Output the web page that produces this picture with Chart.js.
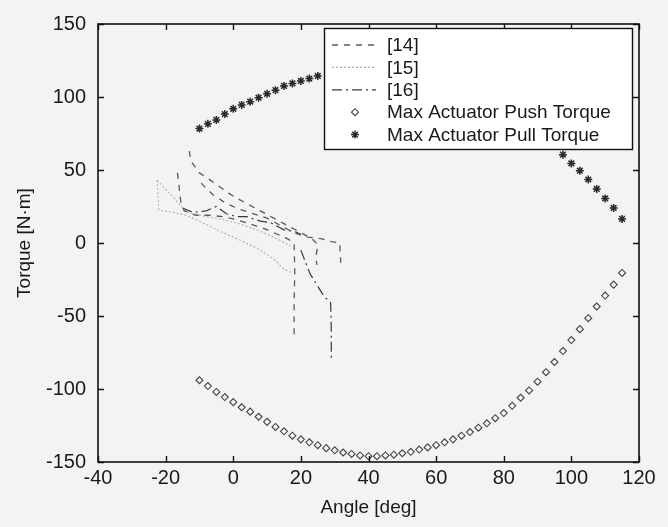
<!DOCTYPE html>
<html>
<head>
<meta charset="utf-8">
<script src="https://cdn.jsdelivr.net/npm/chart.js@4.4.1/dist/chart.umd.min.js"></script>
<style>
  html, body { margin: 0; padding: 0; background: #f3f3f1; }
  canvas { display: block; }
</style>
</head>
<body>
<canvas id="torqueChart" width="668" height="527"></canvas>
<script>
// Maximum actuator torque capability, sampled every 2.5 deg
const pushAngle = [-10, -7.5, -5, -2.5, 0, 2.5, 5, 7.5, 10, 12.5, 15, 17.5, 20, 22.5, 25, 27.5, 30, 32.5,
  35, 37.5, 40, 42.5, 45, 47.5, 50, 52.5, 55, 57.5, 60, 62.5, 65, 67.5, 70, 72.5, 75, 77.5, 80, 82.5,
  85, 87.5, 90, 92.5, 95, 97.5, 100, 102.5, 105, 107.5, 110, 112.5, 115];
const pushTorque = [-94, -98, -102, -105.5, -109, -112.5, -115.5, -119, -122.5, -126, -129, -132, -134.5,
  -136.5, -138.5, -140.5, -142, -143.5, -144.5, -145.5, -146, -146, -145.5, -145, -144, -143, -141.5,
  -140, -138.5, -136.5, -134.5, -132, -129.5, -126.5, -123.5, -120, -116.5, -111.5, -106, -101, -95,
  -88.5, -81.5, -74, -66.5, -59, -51.5, -43.5, -36, -28.5, -20.5];

const pullAngle = [-10, -7.5, -5, -2.5, 0, 2.5, 5, 7.5, 10, 12.5, 15, 17.5, 20, 22.5, 25,
  97.5, 100, 102.5, 105, 107.5, 110, 112.5, 115];
const pullTorque = [78.4, 81.6, 84.3, 88.3, 91.9, 94.6, 96.8, 99.5, 102.2, 104.7, 107.6, 109.3, 111, 112.6, 114.4,
  60.5, 54.5, 49.5, 43.5, 37, 30.5, 24, 16.5];

// Published joint torque traces; null separates individual traces
const ref14Angle = [-13, -12.5, -10, -8, -4, 0, 4, 8, 12, 16, 20, 23, 25, 24.5, 24.7, null,
  -16.5, -16, -15.5, -14.5, -11, -7, -3, 1, 5, 9, 13, 16, 18, 18.2, 18, 18, null,
  -9.5, -6, -2, 2, 6, 10, 14, 18, 22, 26, 29, 31.5, 31.8];
const ref14Torque = [63, 56, 48, 45, 38.5, 32, 27, 22, 17, 12, 7, 3.5, -1, -9, -15, null,
  48, 38, 28, 22, 19, 19, 18, 16, 13, 10, 6, 3, 0, -20, -40, -65, null,
  41, 33, 27, 23, 20, 17, 12, 7, 4, 3, 1, 0, -13.5];

const ref15Angle = [-22.5, -22, -18, -14, -10, -7, -3, 2, 7, 12, 15, 17, null,
  -22.5, -18, -14, -8, -3, 2, 7, 12, 17];
const ref15Torque = [43, 22.5, 21, 19, 15, 11.5, 7, 2, -3.5, -11, -18, -20, null,
  43, 32, 21.5, 18, 16, 13, 9, 4, -2];

const ref16Angle = [-15, -12, -8, -5, -2, 1, 4, 8, 11, 15, 18, 20, null,
  20, 22.7, 26.7, 28.8, 29, 29];
const ref16Torque = [24, 21, 22, 25, 20, 18, 18, 15, 14, 9, 8, 6, null,
  -5, -21, -36, -41, -60, -80];

const xTicks = [-40, -20, 0, 20, 40, 60, 80, 100, 120];
const yTicks = [-150, -100, -50, 0, 50, 100, 150];

const toPoints = (xs, ys) => xs.map((x, i) => ({ x: x, y: ys[i] }));

const FONT = "'Liberation Sans', Arial, sans-serif";
const TEXT = '#1a1a1a';

// Page background
const paper = {
  id: 'paper',
  beforeDraw(chart) {
    const ctx = chart.ctx;
    ctx.save();
    ctx.fillStyle = '#f3f3f1';
    ctx.fillRect(0, 0, chart.width, chart.height);
    ctx.restore();
  }
};

// Box frame with inward tick marks on all four sides
const frame = {
  id: 'frame',
  afterDatasetsDraw(chart) {
    const { ctx, chartArea: a, scales } = chart;
    const len = 6;
    ctx.save();
    ctx.strokeStyle = '#111';
    ctx.lineWidth = 1.6;
    ctx.strokeRect(a.left, a.top, a.right - a.left, a.bottom - a.top);
    ctx.beginPath();
    xTicks.forEach(v => {
      const px = Math.round(scales.x.getPixelForValue(v)) + 0.5;
      ctx.moveTo(px, a.bottom); ctx.lineTo(px, a.bottom - len);
      ctx.moveTo(px, a.top); ctx.lineTo(px, a.top + len);
    });
    yTicks.forEach(v => {
      const py = Math.round(scales.y.getPixelForValue(v)) + 0.5;
      ctx.moveTo(a.left, py); ctx.lineTo(a.left + len, py);
      ctx.moveTo(a.right, py); ctx.lineTo(a.right - len, py);
    });
    ctx.lineWidth = 1.4;
    ctx.stroke();
    ctx.restore();
  }
};

// Opaque legend box in the upper right of the plot
const boxedLegend = {
  id: 'boxedLegend',
  afterDraw(chart) {
    const { ctx, chartArea: a } = chart;
    const w = 308, h = 121;
    const x0 = a.right - 7 - w, y0 = a.top + 4;
    ctx.save();
    ctx.fillStyle = '#ffffff';
    ctx.fillRect(x0, y0, w, h);
    ctx.strokeStyle = '#111';
    ctx.lineWidth = 1.4;
    ctx.strokeRect(x0 + 0.5, y0 + 0.5, w, h);
    chart.data.datasets.forEach((ds, i) => {
      const cy = y0 + 17 + i * 22.4;
      ctx.save();
      if (ds.showLine) {
        ctx.strokeStyle = ds.borderColor;
        ctx.lineWidth = ds.borderWidth;
        ctx.setLineDash(ds.borderDash || []);
        ctx.beginPath();
        ctx.moveTo(x0 + 8, cy);
        ctx.lineTo(x0 + 52, cy);
        ctx.stroke();
      } else {
        ctx.strokeStyle = ds.pointBorderColor;
        ctx.fillStyle = ds.pointBackgroundColor;
        ctx.lineWidth = ds.pointBorderWidth;
        Chart.helpers.drawPoint(ctx, {
          pointStyle: ds.pointStyle,
          radius: ds.pointRadius,
          borderWidth: ds.pointBorderWidth,
          rotation: 0
        }, x0 + 31, cy);
      }
      ctx.restore();
      ctx.font = '19px ' + FONT;
      ctx.textBaseline = 'middle';
      ctx.fillStyle = TEXT;
      ctx.fillText(ds.label, x0 + 63, cy + 1);
    });
    ctx.restore();
  }
};

const lineSet = (label, xs, ys, color, dash, width) => ({
  label: label,
  data: toPoints(xs, ys),
  showLine: true,
  spanGaps: false,
  borderColor: color,
  borderWidth: width,
  borderDash: dash,
  pointRadius: 0,
  pointHoverRadius: 0,
  fill: false
});

new Chart(document.getElementById('torqueChart'), {
  type: 'scatter',
  data: {
    datasets: [
      lineSet('[14]', ref14Angle, ref14Torque, '#5a5a5a', [6, 6], 1.3),
      lineSet('[15]', ref15Angle, ref15Torque, '#b0b0b0', [2, 2], 1.1),
      lineSet('[16]', ref16Angle, ref16Torque, '#3a3a3a', [10, 4, 2, 4], 1.2),
      {
        label: 'Max Actuator Push Torque',
        data: toPoints(pushAngle, pushTorque),
        showLine: false,
        pointStyle: 'rectRot',
        pointRadius: 3.5,
        pointBorderWidth: 1.1,
        pointBorderColor: '#444444',
        pointBackgroundColor: 'rgba(0,0,0,0)',
        pointHoverRadius: 3.5
      },
      {
        label: 'Max Actuator Pull Torque',
        data: toPoints(pullAngle, pullTorque),
        showLine: false,
        pointStyle: 'star',
        pointRadius: 4,
        pointBorderWidth: 1.5,
        pointBorderColor: '#2a2a2a',
        pointBackgroundColor: '#2a2a2a',
        pointHoverRadius: 4
      }
    ]
  },
  options: {
    responsive: false,
    animation: false,
    events: [],
    layout: { padding: { top: 18, right: 29, left: 0, bottom: 0 } },
    plugins: { legend: { display: false }, tooltip: { enabled: false } },
    scales: {
      x: {
        type: 'linear',
        min: -40, max: 120,
        afterBuildTicks(s) { s.ticks = xTicks.map(v => ({ value: v })); },
        afterFit(s) { s.height = 65; },
        ticks: { color: TEXT, font: { family: FONT, size: 20 }, padding: 4, maxRotation: 0 },
        grid: { display: false, drawTicks: false },
        border: { display: false },
        title: { display: true, text: 'Angle [deg]', color: TEXT,
                 font: { family: FONT, size: 19 }, padding: { top: 0, bottom: 8 } }
      },
      y: {
        type: 'linear',
        min: -150, max: 150,
        afterBuildTicks(s) { s.ticks = yTicks.map(v => ({ value: v })); },
        afterFit(s) { s.width = 98; },
        ticks: { color: TEXT, font: { family: FONT, size: 20 }, padding: 12 },
        grid: { display: false, drawTicks: false },
        border: { display: false },
        title: { display: true, text: 'Torque [N\u00b7m]', color: TEXT,
                 font: { family: FONT, size: 19 }, padding: { top: 13, bottom: 0 } }
      }
    }
  },
  plugins: [paper, frame, boxedLegend]
});
</script>
</body>
</html>
